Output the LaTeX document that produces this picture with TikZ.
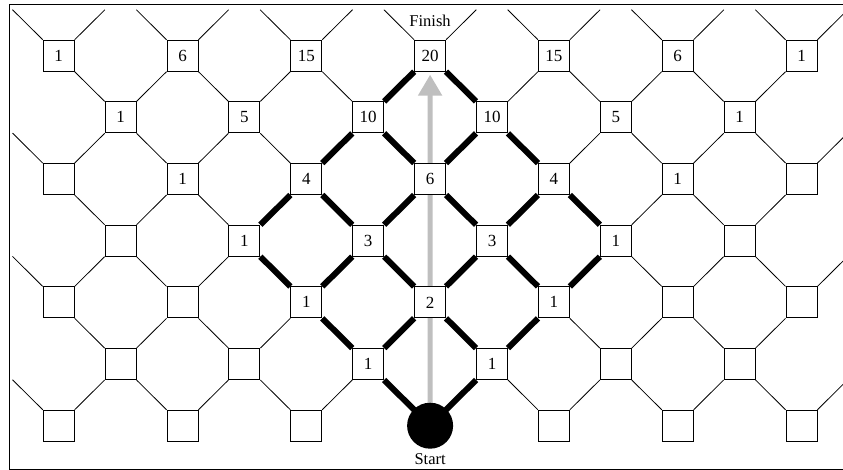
\documentclass[tikz,border=0pt]{standalone}
\usepackage{fontspec}
\setmainfont{Liberation Serif}
\usetikzlibrary{arrows.meta}
\pgfdeclarelayer{bg}
\pgfsetlayers{bg,main}
\begin{document}
\begin{tikzpicture}[x=1pt,y=-1pt,
  sq/.style={draw=black,line width=0.9pt,fill=white,minimum size=31pt,inner sep=0pt,
             font=\fontsize{17pt}{20pt}\selectfont},
  ghost/.style={minimum size=31pt,inner sep=0pt},
  fine/.style={line width=0.8pt},
  heavy/.style={line width=6pt},
  lbl/.style={inner sep=0pt,font=\fontsize{16.5pt}{20pt}\selectfont},
  guide/.style={line width=5pt,draw=black!25,-{Triangle[length=21pt,width=23pt,fill=black!25]},shorten >=3pt}]
\useasboundingbox (0,0) rectangle (843,470);
\draw[line width=1pt] (9,5) rectangle (851,469);

% real squares
\foreach \Y/\lst in {1/{1/1,3/6,5/15,7/20,9/15,11/6,13/1},
                     2/{2/1,4/5,6/10,8/10,10/5,12/1},
                     3/{1/{},3/1,5/4,7/6,9/4,11/1,13/{}},
                     4/{2/{},4/1,6/3,8/3,10/1,12/{}},
                     5/{1/{},3/{},5/1,7/2,9/1,11/{},13/{}},
                     6/{2/{},4/{},6/1,8/1,10/{},12/{}},
                     7/{1/{},3/{},5/{},9/{},11/{},13/{}}}
  \foreach \X/\t in \lst
    \node[sq] (q\Y-\X) at ({58.7+61.9*(\X-1)},{55.7+61.67*(\Y-1)}) {\t};

% invisible squares beyond the frame
\foreach \X in {0,2,...,14}
  \node[ghost] (q0-\X) at ({58.7+61.9*(\X-1)},{55.7-61.67}) {};
\foreach \Y in {2,4,6} {
  \node[ghost] (q\Y-0) at ({58.7-61.9},{55.7+61.67*(\Y-1)}) {};
  \node[ghost] (q\Y-14) at ({58.7+61.9*13},{55.7+61.67*(\Y-1)}) {};
}

% start
\node[circle,fill=black,minimum size=46pt,inner sep=0pt] (start) at (430.1,425.7) {};
\node[lbl] (startlbl) at (430.1,459.3) {Start};
\node[lbl] (finish) at (430.1,20.7) {Finish};

\begin{pgfonlayer}{bg}
% thin lattice
\foreach \Y/\lst in {1/{1,3,...,13},2/{2,4,...,12},3/{1,3,...,13},4/{2,4,...,12},
                     5/{1,3,...,13},6/{2,4,...,12},7/{1,3,5,9,11,13}}
  \foreach \X in \lst {
    \pgfmathtruncatemacro\Yu{\Y-1}
    \pgfmathtruncatemacro\Xl{\X-1}
    \pgfmathtruncatemacro\Xr{\X+1}
    \draw[fine] (q\Y-\X.north west) -- (q\Yu-\Xl.south east);
    \draw[fine] (q\Y-\X.north east) -- (q\Yu-\Xr.south west);
  }
% heavy paths: up-left edges
\foreach \Y/\X in {6/6,6/8,5/5,5/7,5/9,4/6,4/8,4/10,3/7,3/9,2/8} {
  \pgfmathtruncatemacro\Yu{\Y-1}
  \pgfmathtruncatemacro\Xl{\X-1}
  \draw[heavy] (q\Y-\X.north west) -- (q\Yu-\Xl.south east);
}
% heavy paths: up-right edges
\foreach \Y/\X in {6/6,6/8,5/5,5/7,5/9,4/4,4/6,4/8,3/5,3/7,2/6} {
  \pgfmathtruncatemacro\Yu{\Y-1}
  \pgfmathtruncatemacro\Xr{\X+1}
  \draw[heavy] (q\Y-\X.north east) -- (q\Yu-\Xr.south west);
}
\draw[heavy] (start.center) -- (q6-6.south east);
\draw[heavy] (start.center) -- (q6-8.south west);
% gray arrow
\draw[guide] (start.north) -- (q1-7.south);
\end{pgfonlayer}
\end{tikzpicture}
\end{document}
